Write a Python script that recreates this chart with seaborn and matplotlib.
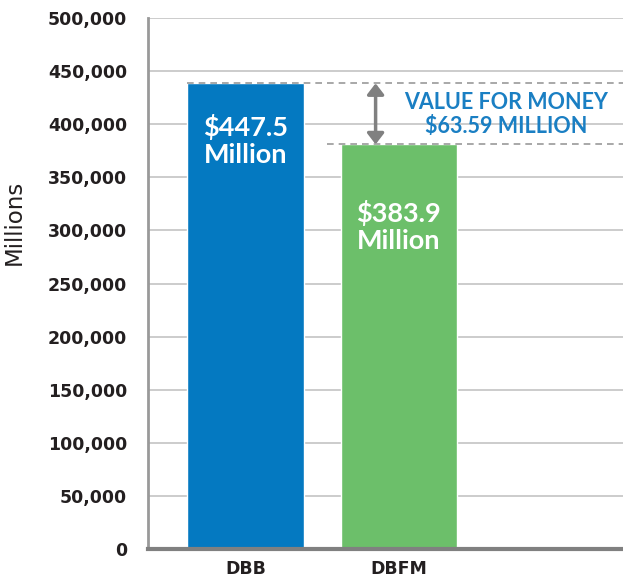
import matplotlib
matplotlib.use('Agg')
import matplotlib.pyplot as plt
import seaborn as sns
import pandas as pd

# Values (bar heights as drawn, in millions axis units)
categories = ['DBB', 'DBFM']
bar_values = [438500, 381000]
bar_labels = ['$447.5\nMillion', '$383.9\nMillion']
bar_colors = ['#0479c1', '#6cbf6a']
gap_label = 'VALUE FOR MONEY\n$63.59 MILLION'
y_ticks = list(range(0, 500001, 50000))

df = pd.DataFrame({'plan': categories, 'cost': bar_values})

sns.set_style('white')
plt.rcParams['font.family'] = ['DejaVu Sans']

fig = plt.figure(figsize=(6.23, 5.77), dpi=100)
ax = fig.add_axes([148 / 623, 28 / 577, 1 - 148 / 623, 531 / 577])

sns.barplot(data=df, x='plan', y='cost', hue='plan', palette=bar_colors,
            width=0.76, saturation=1, legend=False, ax=ax, zorder=3)

ax.set_xlim(-0.635, 2.46)
ax.set_ylim(0, 500000)
ax.set_yticks(y_ticks)
ax.set_yticklabels([f'{v:,}' for v in y_ticks])
ax.yaxis.grid(True, color='#c8c8c8', lw=1.3, zorder=0)
ax.tick_params(axis='y', length=8, width=1.3, color='#c8c8c8', pad=7,
               labelsize=12.5, labelcolor='#231f20')
ax.tick_params(axis='x', length=0, pad=8, labelsize=12.5, labelcolor='#231f20')
for lab in ax.get_yticklabels() + ax.get_xticklabels():
    lab.set_fontweight('bold')

ax.set_xlabel('')
ax.set_ylabel('Millions', fontsize=16.5, color='#231f20')
ax.yaxis.set_label_coords(-0.258, 0.616)

for side in ['top', 'right']:
    ax.spines[side].set_visible(False)
ax.spines['left'].set_color('#999999')
ax.spines['left'].set_linewidth(2)
ax.spines['bottom'].set_color('#808080')
ax.spines['bottom'].set_linewidth(3)
ax.spines['bottom'].set_zorder(5)

# value labels inside the bars
offsets = [-57, -82]
for i, (val, txt) in enumerate(zip(bar_values, bar_labels)):
    ax.annotate(txt, xy=(i, val), xytext=(0, offsets[i] * 0.72),
                textcoords='offset points', ha='center', va='center',
                color='white', fontsize=19.5, fontweight='bold',
                family='Lato', linespacing=1.18, zorder=6)

# dashed reference lines and the gap arrow
ax.hlines(bar_values[0], -0.38, 2.46, colors='#999999', linestyles=(0, (4, 3)),
          lw=1.2, zorder=4)
ax.hlines(bar_values[1], 0.53, 2.46, colors='#999999', linestyles=(0, (4, 3)),
          lw=1.2, zorder=4)
ax.annotate('', xy=(0.848, bar_values[1]), xytext=(0.848, bar_values[0]),
            arrowprops=dict(arrowstyle='<|-|>,head_width=0.5,head_length=0.65',
                            color='#808080', lw=2.5, shrinkA=0, shrinkB=0),
            zorder=5)
ax.text(1.70, 409000, gap_label, ha='center', va='center', color='#1a7fc3',
        fontsize=15.5, fontweight='bold', family='Lato', linespacing=1.15,
        zorder=5)

fig.savefig('out.png', dpi=100)
